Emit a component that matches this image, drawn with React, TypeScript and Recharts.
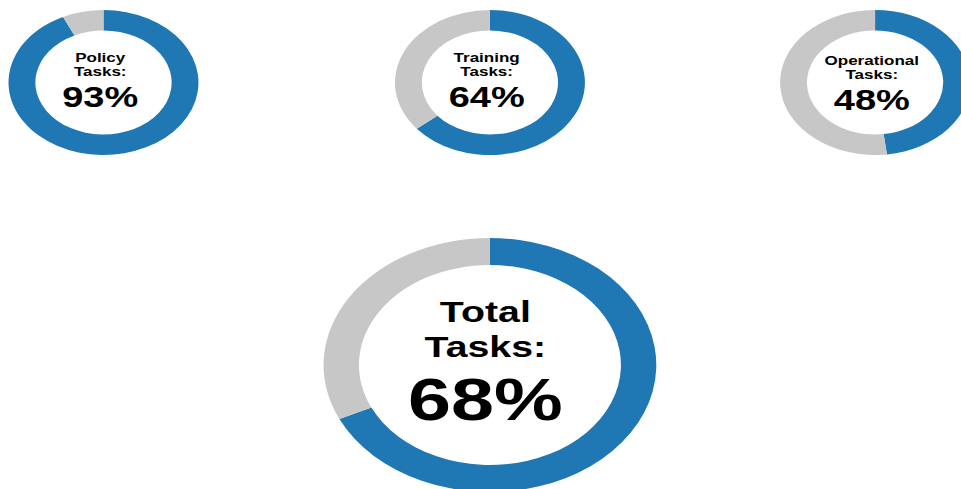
import React from "react";
import { PieChart, Pie, Cell, Label } from "recharts";

const categories = ["Policy", "Training", "Operational", "Total"];
const completedPct = [93, 64, 48, 68];
const colors = ["#1f77b4", "#c7c7c7"];

const SX = 1.31;
const W = 961 / SX;
const H = 489;
const FONT = "'Liberation Sans', Arial, Helvetica, sans-serif";

// layout (unscaled x coords)
const small = { outer: 72.5, inner: 52 };
const big = { outer: 127, inner: 100 };
const centers = [
  { cx: 79, cy: 82.5, dy: 0 },
  { cx: 374, cy: 82.5, dy: 0 },
  { cx: 668, cy: 82.5, dy: 2.5 },
  { cx: 374, cy: 365, dy: 0 },
];

function centerText(name: string, pct: number, isBig: boolean, cx: number, cy: number) {
  return () => {
    if (isBig) {
      const x = cx - 3.5;
      return (
        <g fontFamily={FONT} fontWeight="bold" fill="#000" textAnchor="middle">
          <text x={x} y={cy - 43} fontSize={30}>{name}</text>
          <text x={x} y={cy - 8} fontSize={30}>Tasks:</text>
          <text x={x} y={cy + 55} fontSize={59}>{pct}%</text>
        </g>
      );
    }
    const x = cx - 2.5;
    return (
      <g fontFamily={FONT} fontWeight="bold" fill="#000" textAnchor="middle">
        <text x={x} y={cy - 20} fontSize={13}>{name}</text>
        <text x={x} y={cy - 6} fontSize={13}>Tasks:</text>
        <text x={x} y={cy + 25} fontSize={29}>{pct}%</text>
      </g>
    );
  };
}

export default function App() {
  return (
    <div style={{ position: "absolute", left: 0, top: 0, width: 961, height: 489, overflow: "hidden", background: "#fff" }}>
      <div style={{ width: W, height: H, transform: `scaleX(${SX})`, transformOrigin: "0 0" }}>
        <PieChart width={W} height={H} margin={{ top: 0, right: 0, bottom: 0, left: 0 }}>
          {categories.map((name, i) => {
            const isBig = name === "Total";
            const r = isBig ? big : small;
            const { cx, cy, dy } = centers[i];
            const data = [
              { name: "Completed", value: completedPct[i] },
              { name: "Remaining", value: 100 - completedPct[i] },
            ];
            return (
              <Pie
                key={name}
                data={data}
                dataKey="value"
                cx={cx}
                cy={cy}
                innerRadius={r.inner}
                outerRadius={r.outer}
                startAngle={90}
                endAngle={-270}
                stroke="none"
                isAnimationActive={false}
              >
                {data.map((d, j) => (
                  <Cell key={d.name} fill={colors[j]} />
                ))}
                <Label position="center" content={centerText(name, completedPct[i], isBig, cx, cy + dy)} />
              </Pie>
            );
          })}
        </PieChart>
      </div>
    </div>
  );
}
